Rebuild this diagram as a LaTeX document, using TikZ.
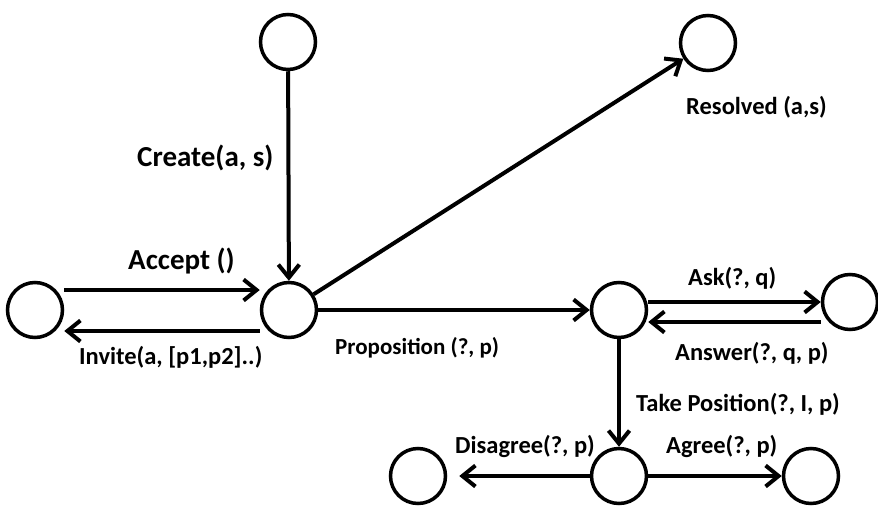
\documentclass[tikz,border=0pt]{standalone}
\usepackage{fontspec}
\setmainfont{Carlito}
\usetikzlibrary{arrows.meta,calc}
\tikzset{
  state/.style={draw,circle,minimum size=55pt,inner sep=0pt,line width=3.5pt},
  move/.style={-{Straight Barb[length=13pt,width=21pt,line width=4pt]},line width=4pt},
  act/.style={anchor=base west,inner sep=0pt,font=\bfseries\fontsize{24.5}{28}\selectfont},
  smallact/.style={act,font=\bfseries\fontsize{23}{26}\selectfont},
  bigact/.style={act,font=\bfseries\fontsize{29}{32}\selectfont}
}

\begin{document}
\begin{tikzpicture}[x=1pt,y=-1pt]
\useasboundingbox (0,0) rectangle (878,506);
% states
\node[state] (T) at (288,42) {};
\node[state] (L) at (35,310) {};
\node[state] (C) at (289,310) {};
\node[state] (R) at (708,43) {};
\node[state] (M) at (619,310) {};
\node[state] (A) at (850,302) {};
\node[state] (B) at (619,476) {};
\node[state] (D) at (418,476) {};
\node[state] (G) at (811,476) {};
% moves
\draw[move] (T) -- (C);
\draw[move] ([yshift=20pt]L.east) -- ([yshift=20pt]C.west);
\draw[move] ([yshift=-21pt]C.west) -- ([yshift=-21pt]L.east);
\draw[move] (C) -- (R);
\draw[move] (C.east) -- (M.west);
\draw[move] ([yshift=8pt]M.east) -- (A.west);
\draw[move] ([yshift=-20pt]A.west) -- ([yshift=-12pt]M.east);
\draw[move] (M) -- (B);
\draw[move] (B.west) -- ([xshift=12pt]D.east);
\draw[move] (B.east) -- (G.west);
% labels
\node[bigact] (create) at (137,166) {Create(a, s)};
\node[bigact] (accept) at (128,269) {Accept ()};
\node[act] (invite) at (79,364) {Invite(a, [p1,p2]..)};
\node[act] (resolved) at (686,114) {Resolved (a,s)};
\node[smallact] (prop) at (335,354) {Proposition (?, p)};
\node[act] (ask) at (688,285) {Ask(?, q)};
\node[act] (answer) at (675,360) {Answer(?, q, p)};
\node[act] (take) at (636,411) {Take Position(?, I, p)};
\node[act] (disagree) at (455,453) {Disagree(?, p)};
\node[act] (agree) at (666,453) {Agree(?, p)};
\end{tikzpicture}
\end{document}
